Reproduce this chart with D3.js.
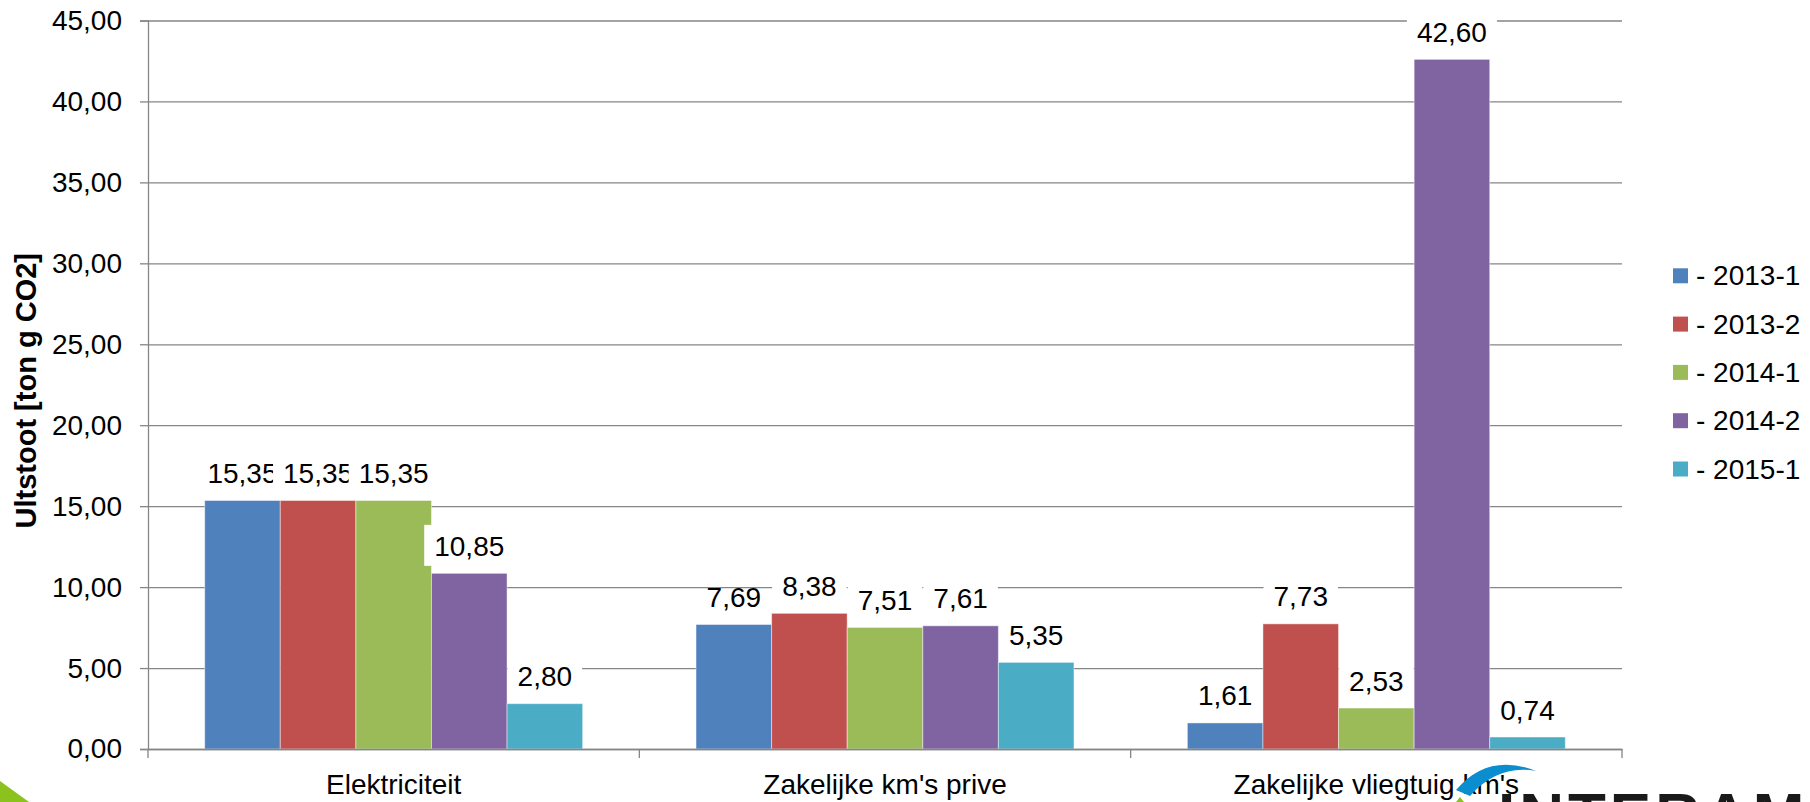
<!DOCTYPE html>
<html>
<head>
<meta charset="utf-8">
<script src="https://cdn.jsdelivr.net/npm/d3@7"></script>
<style>
  body { margin: 0; background: #fff; }
  svg { display: block; font-family: "Liberation Sans", Arial, sans-serif; }
</style>
</head>
<body>
<svg id="chart" width="1810" height="802"></svg>
<script>
const categories = ['Elektriciteit', "Zakelijke km's prive", "Zakelijke vliegtuig km's"]
const seriesNames = ['- 2013-1', '- 2013-2', '- 2014-1', '- 2014-2', '- 2015-1']
const colors = ['#4F81BD', '#C0504D', '#9BBB59', '#8064A2', '#4BACC6']
const s2013_1 = [15.35, 7.69, 1.61]
const s2013_2 = [15.35, 8.38, 7.73]
const s2014_1 = [15.35, 7.51, 2.53]
const s2014_2 = [10.85, 7.61, 42.60]
const s2015_1 = [2.80, 5.35, 0.74]
const yTicks = [0, 5, 10, 15, 20, 25, 30, 35, 40, 45]

const values = [s2013_1, s2013_2, s2014_1, s2014_2, s2015_1]

const margin = { left: 148, right: 188, top: 20.5, bottom: 53 }
const W = 1810, H = 802
const svg = d3.select('#chart')
const grey = '#868686'

const nl = d3.formatLocale({ decimal: ',', thousands: '.', grouping: [3], currency: ['€', ''] })
const fmt = nl.format('.2f')

let x = d3.scaleBand()
    .domain(categories)
    .range([margin.left, W - margin.right])
    .padding(0)

let x1 = d3.scaleBand()
    .domain(seriesNames)
    .range([0, x.bandwidth()])
    .paddingInner(0)
    .paddingOuter(0.75)

let y = d3.scaleLinear()
    .domain([0, 45])
    .range([H - margin.bottom, margin.top])

// gridlines
svg.append('g')
    .attr('transform', `translate(${margin.left},0)`)
    .call(d3.axisLeft(y).tickValues(yTicks).tickSize(-(W - margin.right - margin.left)).tickFormat(''))
    .call(g => g.select('.domain').remove())
    .call(g => g.selectAll('line').attr('stroke', grey).attr('stroke-width', 1.3))

// y axis
svg.append('g')
    .attr('transform', `translate(${margin.left},0)`)
    .call(d3.axisLeft(y).tickValues(yTicks).tickSize(8).tickPadding(18).tickFormat(fmt))
    .call(g => g.select('.domain').attr('stroke', grey).attr('stroke-width', 1.3))
    .call(g => g.selectAll('line').attr('stroke', grey).attr('stroke-width', 1.3))
    .call(g => g.selectAll('text').attr('font-size', 28).attr('fill', '#000').attr('font-family', null))

// bars
const groups = svg.append('g')
    .selectAll('g')
    .data(categories)
    .enter()
    .append('g')
    .attr('transform', d => `translate(${x(d)},0)`)

groups.selectAll('rect')
    .data((c, ci) => seriesNames.map((s, si) => ({ s, si, v: values[si][ci] })))
    .enter()
    .append('rect')
    .attr('x', d => x1(d.s))
    .attr('width', x1.bandwidth())
    .attr('y', d => y(d.v))
    .attr('height', d => y(0) - y(d.v))
    .attr('fill', d => colors[d.si])
    .attr('stroke', '#fff')
    .attr('stroke-opacity', 0.45)
    .attr('stroke-width', 1)

// x axis
const xAxis = svg.append('g')
    .attr('transform', `translate(0,${y(0)})`)
    .call(d3.axisBottom(x).tickSize(0).tickPadding(25))
xAxis.select('.domain').attr('stroke', grey).attr('stroke-width', 1.3)
xAxis.selectAll('text').attr('font-size', 28).attr('fill', '#000').attr('font-family', null)

const bounds = categories.map(c => x(c)).concat([x(categories[categories.length - 1]) + x.bandwidth()])
xAxis.selectAll('.bound')
    .data(bounds)
    .enter()
    .append('line')
    .attr('x1', d => d).attr('x2', d => d)
    .attr('y1', 0).attr('y2', 9)
    .attr('stroke', grey).attr('stroke-width', 1.3)

// data labels (drawn after all bars, in series order)
const labels = svg.append('g')
for (let si = 0; si < seriesNames.length; si++) {
    categories.forEach((c, ci) => {
        const v = values[si][ci]
        const cx = x(c) + x1(seriesNames[si]) + x1.bandwidth() / 2
        const base = y(v) - 17.5
        const g = labels.append('g')
        const t = g.append('text')
            .attr('x', cx)
            .attr('y', base)
            .attr('text-anchor', 'middle')
            .attr('font-size', 28)
            .text(fmt(v))
        if (si > 0) {
            const tw = t.node().getComputedTextLength()
            g.insert('rect', 'text')
                .attr('x', cx - tw / 2 - 10)
                .attr('y', base - 31)
                .attr('width', tw + 20)
                .attr('height', 41)
                .attr('fill', '#fff')
        }
    })
}

// y title
svg.append('text')
    .attr('transform', `translate(36,${(y(0) + y(45)) / 2 + 6}) rotate(-90)`)
    .attr('text-anchor', 'middle')
    .attr('font-size', 29)
    .attr('font-weight', 'bold')
    .text('Ultstoot [ton g CO2]')

// legend
const legend = svg.append('g')
    .selectAll('g')
    .data(seriesNames)
    .enter()
    .append('g')
    .attr('transform', (d, i) => `translate(1673,${275.8 + i * 48.3})`)

legend.append('rect')
    .attr('x', 0).attr('y', -7.5)
    .attr('width', 15).attr('height', 15)
    .attr('fill', (d, i) => colors[i])

legend.append('text')
    .attr('x', 23)
    .attr('y', 9.5)
    .attr('font-size', 28)
    .text(d => d)

// decorations from the slide: green corner and logo
svg.append('path')
    .attr('d', 'M0,781 L29,802 L0,802 Z')
    .attr('fill', '#8cc21e')

svg.append('path')
    .attr('d', 'M1456,790 Q1488,752 1536,771 Q1498,764 1470,796 Z')
    .attr('fill', '#0a8ed0')

svg.append('path')
    .attr('d', 'M1456,802 L1460,797 L1464,802 Z')
    .attr('fill', '#8cc21e')

svg.append('text')
    .attr('x', 1498)
    .attr('y', 836)
    .attr('font-size', 62)
    .attr('font-weight', 'bold')
    .attr('letter-spacing', 4)
    .attr('fill', '#1a1a1a')
    .text('INTERAM')
</script>
</body>
</html>
